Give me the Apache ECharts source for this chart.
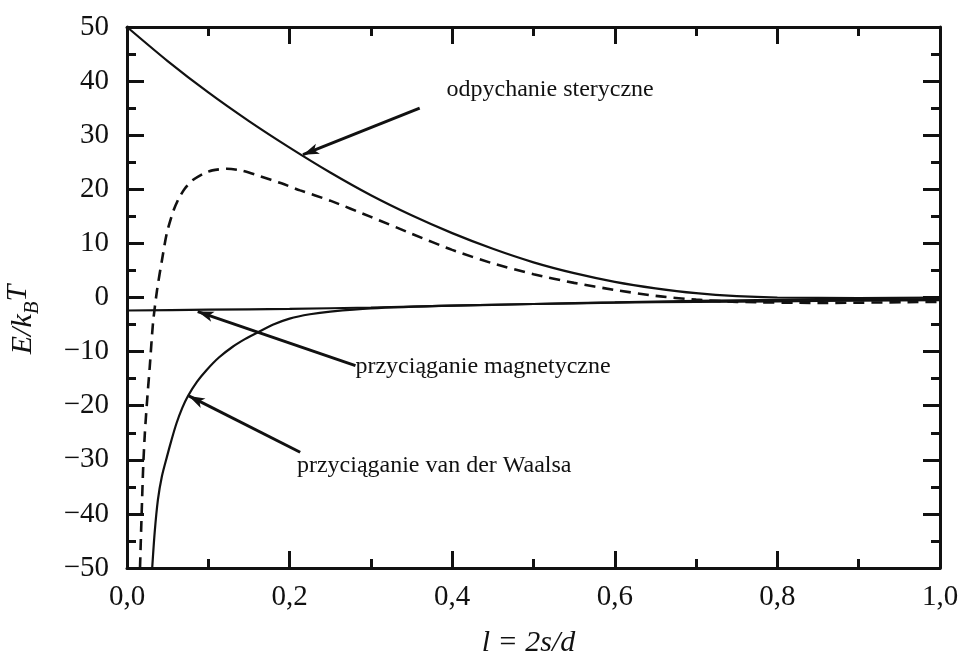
<!DOCTYPE html>
<html>
<head>
<meta charset="utf-8">
<script src="https://cdn.jsdelivr.net/npm/echarts@6/dist/echarts.min.js"></script>
<style>
  html, body { margin: 0; padding: 0; background: #fff; }
  #chart { width: 960px; height: 661px; }
</style>
</head>
<body>
<div id="chart"></div>
<script>
// Interaction energies (in units of k_B T) versus the reduced distance l = 2s/d

// steric repulsion
const stericX = [0, 0.05, 0.1, 0.15, 0.2, 0.25, 0.3, 0.35, 0.4, 0.45, 0.5, 0.55, 0.6, 0.65, 0.7, 0.75, 0.8, 0.9, 1.0];
const stericY = [50, 43.7, 37.9, 32.6, 27.7, 23.1, 18.9, 15.2, 11.9, 9.0, 6.5, 4.5, 2.9, 1.7, 0.8, 0.25, 0, -0.1, 0];

// magnetic attraction
const magX = [0, 0.1, 0.2, 0.3, 0.4, 0.5, 0.6, 0.7, 0.8, 0.9, 1.0];
const magY = [-2.4, -2.25, -2.1, -1.85, -1.5, -1.2, -0.9, -0.6, -0.45, -0.35, -0.3];

// van der Waals attraction
const vdwX = [0.031, 0.034, 0.038, 0.043, 0.049, 0.055, 0.061, 0.068, 0.075, 0.086, 0.098, 0.113, 0.13, 0.145, 0.16, 0.18, 0.2, 0.225, 0.25, 0.3, 0.4, 0.5, 0.6, 0.7, 0.8, 0.9, 1.0];
const vdwY = [-50, -43.5, -37.4, -33, -29.5, -26.2, -23.2, -20.4, -18.2, -15.6, -13.4, -11.1, -9.1, -7.7, -6.5, -5.0, -3.9, -3.1, -2.6, -2.0, -1.5, -1.2, -0.95, -0.8, -0.7, -0.6, -0.5];

// total energy (dashed)
const totalX = [0.016, 0.018, 0.020, 0.022, 0.025, 0.028, 0.032, 0.037, 0.043, 0.049, 0.057, 0.064, 0.071, 0.08, 0.094, 0.105, 0.123, 0.14, 0.164, 0.19, 0.213, 0.25, 0.3, 0.35, 0.4, 0.45, 0.5, 0.55, 0.6, 0.65, 0.7, 0.75, 0.85, 1.0];
const totalY = [-50, -40, -31, -25, -18.5, -12.8, -4.7, 1.4, 6.9, 11.9, 16.0, 18.4, 20.1, 21.6, 22.9, 23.5, 23.8, 23.5, 22.4, 21.1, 19.8, 17.9, 14.9, 11.8, 8.8, 6.3, 4.3, 2.7, 1.4, 0.3, -0.4, -0.8, -1.0, -0.8];

// axis ranges and tick labels
const xTicks = [0, 0.2, 0.4, 0.6, 0.8, 1.0];
const yTicks = [-50, -40, -30, -20, -10, 0, 10, 20, 30, 40, 50];

// annotation texts with their anchor points (data space) and arrow segments
const annoText = ['odpychanie steryczne', 'przyciąganie magnetyczne', 'przyciąganie van der Waalsa'];
const annoAt = [[0.393, 38.4], [0.281, -12.8], [0.209, -31.0]];
const arrows = [
  [[0.360, 35.0], [0.2165, 26.4]],
  [[0.281, -12.6], [0.087, -2.6]],
  [[0.213, -28.6], [0.076, -18.2]]
];

const zip = (xs, ys) => xs.map((x, i) => [x, ys[i]]);

const serif = '"Liberation Serif", "DejaVu Serif", serif';
const ink = '#111';

const axisBase = {
  type: 'value',
  axisLine: { show: true, onZero: false, lineStyle: { color: ink, width: 3 } },
  axisTick: { show: true, inside: true, length: 17, lineStyle: { color: ink, width: 3 } },
  minorTick: { show: true, splitNumber: 2, length: 9, lineStyle: { color: ink, width: 3 } },
  splitLine: { show: false },
  minorSplitLine: { show: false }
};

const fmtX = v => v.toFixed(1).replace('.', ',');
const fmtY = v => (v < 0 ? '\u2212' + Math.abs(v) : String(v));

const chart = echarts.init(document.getElementById('chart'), null, { renderer: 'canvas' });

const curve = { type: 'line', showSymbol: false, symbol: 'none', clip: true, smooth: 0.25 };

const option = {
  animation: false,
  backgroundColor: '#fff',
  grid: { left: 127, right: 20, top: 27, bottom: 93, containLabel: false, outerBoundsMode: 'none' },
  xAxis: [
    Object.assign({}, axisBase, {
      position: 'bottom', min: 0, max: 1, interval: 0.2,
      axisLabel: { show: true, margin: 15, color: ink, fontFamily: serif, fontSize: 29,
        formatter: v => (xTicks.some(t => Math.abs(t - v) < 1e-9) ? fmtX(v) : '') },
      name: '{i|l = 2s/d}',
      nameLocation: 'middle', nameGap: 60,
      nameTextStyle: {
        color: ink, fontFamily: serif, fontSize: 30, padding: [0, 10, 0, 0],
        rich: { i: { fontStyle: 'italic', fontFamily: serif, fontSize: 30, color: ink } }
      }
    }),
    Object.assign({}, axisBase, {
      position: 'top', min: 0, max: 1, interval: 0.2,
      axisLabel: { show: false }
    })
  ],
  yAxis: [
    Object.assign({}, axisBase, {
      position: 'left', min: -50, max: 50, interval: 10,
      axisLabel: { show: true, margin: 18, color: ink, fontFamily: serif, fontSize: 29,
        formatter: v => (yTicks.indexOf(v) >= 0 ? fmtY(v) : '') },
      name: '{i|E/k}{s|B}{t|T}',
      nameLocation: 'middle', nameGap: 84, nameRotate: 90,
      nameTextStyle: {
        color: ink, fontFamily: serif, fontSize: 29, padding: [0, 44, 0, 0],
        rich: {
          i: { fontStyle: 'italic', fontFamily: serif, fontSize: 30, color: ink, lineHeight: 40, verticalAlign: 'middle' },
          s: { fontStyle: 'italic', fontFamily: serif, fontSize: 21, color: ink, lineHeight: 40, verticalAlign: 'bottom', padding: [12, 0, 0, 0] },
          t: { fontStyle: 'italic', fontFamily: serif, fontSize: 30, color: ink, lineHeight: 40, verticalAlign: 'top', padding: [0, 0, 8, 0] }
        }
      }
    }),
    Object.assign({}, axisBase, {
      position: 'right', min: -50, max: 50, interval: 10,
      axisLabel: { show: false }
    })
  ],
  series: [
    Object.assign({}, curve, {
      name: 'odpychanie steryczne', data: zip(stericX, stericY),
      lineStyle: { color: ink, width: 2.2 },
      markLine: {
        silent: true, symbol: ['none', 'arrow'], symbolSize: [8, 16],
        label: { show: false },
        lineStyle: { color: ink, width: 3, type: 'solid' },
        data: arrows.map(a => [{ coord: a[0] }, { coord: a[1] }])
      },
      markPoint: {
        silent: true, symbol: 'circle', symbolSize: 0,
        data: annoText.map((t, i) => ({
          coord: annoAt[i],
          label: { show: true, formatter: t, position: 'right', distance: 0,
            color: ink, fontFamily: serif, fontSize: 24, fontWeight: 'normal' }
        }))
      }
    }),
    Object.assign({}, curve, {
      name: 'przyciąganie magnetyczne', data: zip(magX, magY),
      lineStyle: { color: ink, width: 2.2 }
    }),
    Object.assign({}, curve, {
      name: 'przyciąganie van der Waalsa', data: zip(vdwX, vdwY),
      lineStyle: { color: ink, width: 2.2 }
    }),
    Object.assign({}, curve, {
      name: 'suma', data: zip(totalX, totalY),
      lineStyle: { color: ink, width: 2.6, type: [11, 7] }
    })
  ]
};

chart.setOption(option);
</script>
</body>
</html>
